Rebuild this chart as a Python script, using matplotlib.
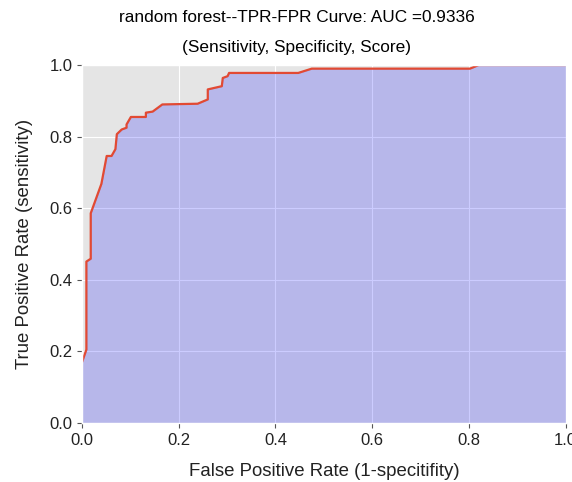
import numpy as np
import matplotlib
matplotlib.use("Agg")
import matplotlib.pyplot as plt

plt.style.use("ggplot")
plt.rcParams["font.family"] = ["Liberation Sans", "DejaVu Sans"]

# ROC curve
fpr = [0.0, 0.009, 0.009, 0.018, 0.018, 0.04, 0.051, 0.061, 0.069, 0.072,
       0.082, 0.092, 0.092, 0.101, 0.132, 0.132, 0.146, 0.166, 0.239, 0.26,
       0.26, 0.289, 0.291, 0.301, 0.304, 0.447, 0.475, 0.802, 0.82, 1.0]
tpr = [0.17, 0.205, 0.451, 0.459, 0.586, 0.668, 0.746, 0.746, 0.765, 0.807,
       0.82, 0.825, 0.834, 0.855, 0.855, 0.867, 0.870, 0.890, 0.892, 0.904,
       0.932, 0.941, 0.964, 0.969, 0.978, 0.978, 0.99, 0.99, 1.0, 1.0]
auc = 0.9336
model = "random forest"

fig = plt.figure(figsize=(5.72, 4.82), dpi=100)
ax = fig.add_axes([0.1434, 0.1224, 0.8456, 0.7426])

ax.fill_between(fpr, tpr, 0, color="blue", alpha=0.2)
ax.plot(fpr, tpr, color="#E24A33", lw=1.6)

ax.set_xlim(0, 1)
ax.set_ylim(0, 1)
ax.set_xlabel("False Positive Rate (1-specitifity)", fontsize=13.4, color="#222222", labelpad=11)
ax.set_ylabel("True Positive Rate (sensitivity)", fontsize=13.4, color="#222222", labelpad=12)
ax.tick_params(labelsize=12, labelcolor="#222222")

fig.text(0.519, 0.963, f"{model}--TPR-FPR Curve: AUC ={auc}", ha="center", va="center", fontsize=12.4)
fig.text(0.519, 0.902, "(Sensitivity, Specificity, Score)", ha="center", va="center", fontsize=12.4)

fig.savefig("out.png", dpi=100)
